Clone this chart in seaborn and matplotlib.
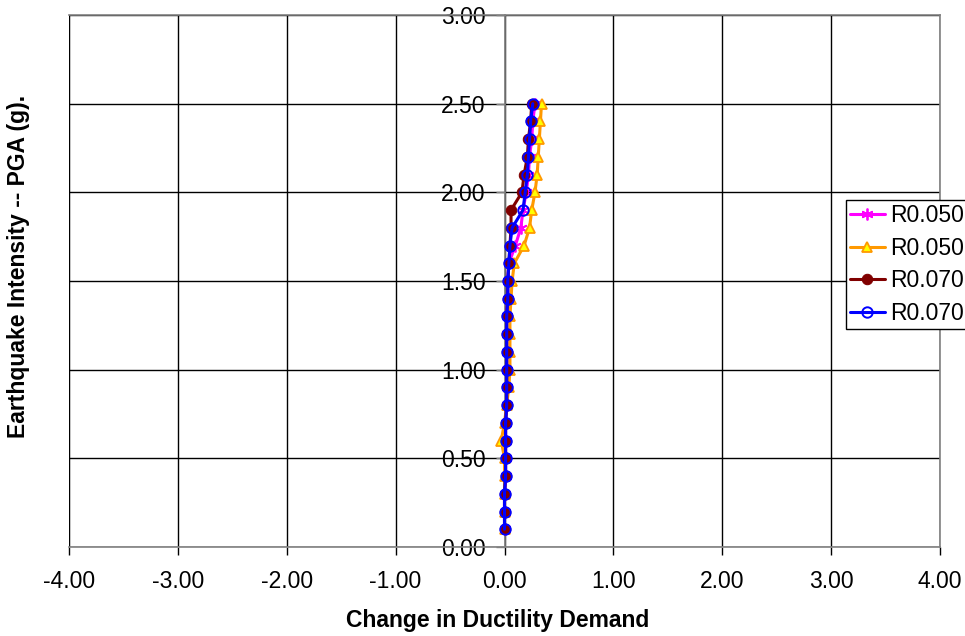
import matplotlib
matplotlib.use("Agg")
import matplotlib.pyplot as plt
import seaborn as sns
import numpy as np

# ---- data ----
pga = [0.1, 0.2, 0.3, 0.4, 0.5, 0.6, 0.7, 0.8, 0.9, 1.0, 1.1, 1.2, 1.3,
       1.4, 1.5, 1.6, 1.7, 1.8, 1.9, 2.0, 2.1, 2.2, 2.3, 2.4, 2.5]

r050_a = [0.00, 0.00, 0.00, 0.01, 0.01, 0.01, 0.01, 0.02, 0.02, 0.02, 0.02, 0.02, 0.02,
          0.03, 0.03, 0.04, 0.10, 0.15, 0.17, 0.20, 0.22, 0.23, 0.25, 0.26, 0.28]
r050_b = [0.00, 0.00, 0.00, 0.00, 0.00, -0.03, 0.00, 0.02, 0.04, 0.05, 0.05, 0.05, 0.05,
          0.06, 0.07, 0.09, 0.18, 0.23, 0.25, 0.28, 0.30, 0.31, 0.32, 0.33, 0.34]
r070_a = [0.00, 0.00, 0.00, 0.01, 0.01, 0.01, 0.01, 0.02, 0.02, 0.02, 0.02, 0.02, 0.02,
          0.03, 0.03, 0.04, 0.05, 0.06, 0.06, 0.16, 0.18, 0.21, 0.22, 0.24, 0.25]
r070_b = [0.00, 0.00, 0.00, 0.01, 0.01, 0.01, 0.01, 0.02, 0.02, 0.02, 0.02, 0.02, 0.02,
          0.03, 0.03, 0.04, 0.05, 0.07, 0.17, 0.19, 0.21, 0.22, 0.23, 0.24, 0.26]

series_labels = ["R0.050", "R0.050", "R0.070", "R0.070"]
x_ticks = [-4, -3, -2, -1, 0, 1, 2, 3, 4]
y_ticks = [0.0, 0.5, 1.0, 1.5, 2.0, 2.5, 3.0]

# ---- style ----
sns.set_theme(style="white")
plt.rcParams["font.family"] = ["Liberation Sans", "DejaVu Sans"]
plt.rcParams["text.color"] = "black"
plt.rcParams["axes.labelcolor"] = "black"

W, H = 965, 636
fig = plt.figure(figsize=(W / 100, H / 100), dpi=100)
fig.patch.set_facecolor("white")
ax = fig.add_axes([69 / W, 1 - 547 / H, (940 - 69) / W, (547 - 15) / H])
ax.set_facecolor("white")

lw = 2.2
ms = 7.5
styles = [
    dict(color="#FF00FF", marker=(6, 2, 0), markersize=8.5, markeredgewidth=1.3,
         markeredgecolor="#FF00FF"),
    dict(color="#FF9900", marker="^", markersize=ms, markerfacecolor="#FFFF00",
         markeredgecolor="#FF9900", markeredgewidth=1.3),
    dict(color="#800000", marker="o", markersize=ms, markerfacecolor="#800000",
         markeredgecolor="#800000"),
    dict(color="#0000FF", marker="o", markersize=ms, markerfacecolor="none",
         markeredgecolor="#0000FF", markeredgewidth=1.4),
]
data = [r050_a, r050_b, r070_a, r070_b]

for vals, lab, st in zip(data, series_labels, styles):
    sns.lineplot(x=vals, y=pga, sort=False, estimator=None, ax=ax,
                 linewidth=lw, label=lab, legend=False, zorder=3, **st)

ax.set_xlim(-4, 4)
ax.set_ylim(0, 3)
ax.set_xticks(x_ticks)
ax.set_yticks(y_ticks)
ax.set_xticklabels([f"{v:.2f}" for v in x_ticks])
ax.set_yticklabels([f"{v:.2f}" for v in y_ticks])

ax.grid(True, color="black", linewidth=1.0, zorder=0)
ax.set_axisbelow(True)

for s in ["top", "right", "bottom"]:
    ax.spines[s].set_color("#808080")
    ax.spines[s].set_linewidth(1.2)
ax.spines["left"].set_position(("data", 0))
ax.spines["left"].set_color("#808080")
ax.spines["left"].set_linewidth(1.2)
ax.axvline(-4, color="black", linewidth=1.5, zorder=1)

ax.tick_params(axis="x", direction="out", length=5.5, width=1.0, color="black",
               pad=11, labelsize=16.5, bottom=True, labelcolor="black")
ax.tick_params(axis="y", direction="out", length=6.5, width=1.0, color="#808080",
               pad=7, labelsize=16.5, left=True, labelcolor="black")

fig.text(498 / W, 1 - 620 / H, "Change in Ductility Demand", ha="center",
         va="center", fontsize=16.5, fontweight="bold", color="black")
fig.text(19 / W, 1 - 266 / H, "Earthquake Intensity -- PGA (g).", ha="center",
         va="center", rotation=90, fontsize=16.5, fontweight="bold", color="black")

handles = [h for h in ax.get_lines() if h.get_label() in series_labels]
leg = fig.legend(handles=handles, labels=series_labels, loc="upper left",
                 bbox_to_anchor=(846 / W, 1 - 200 / H), fontsize=16.5,
                 frameon=True, fancybox=False, shadow=False, framealpha=1,
                 edgecolor="black", handlelength=1.5, handletextpad=0.25,
                 borderpad=0.18, labelspacing=0.42, borderaxespad=0)
leg.get_frame().set_linewidth(1.0)
for t in leg.get_texts():
    t.set_color("black")

fig.savefig("out.png", dpi=100)
